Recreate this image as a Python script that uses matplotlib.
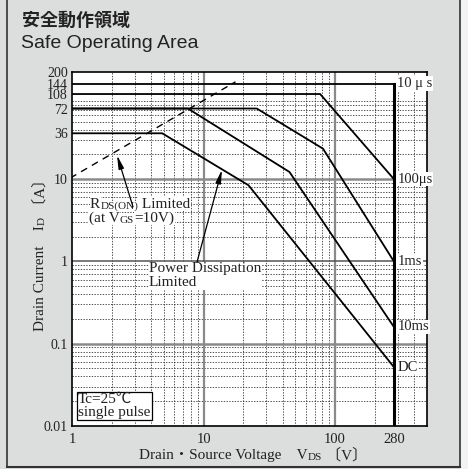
import matplotlib
matplotlib.use("Agg")
import matplotlib.pyplot as plt
from matplotlib.patches import Rectangle
from matplotlib.lines import Line2D

# --------------------------
# DATA
# --------------------------
rds_v = [0.97, 17.5]          # RDS(ON) limit line (dashed)
rds_i = [10.3, 152]

us10_v = [1, 280]
us10_i = [144, 144]
us100_v = [1, 77, 280]
us100_i = [108, 108, 10]
ms1_v = [1, 25.4, 81, 280]
ms1_i = [72, 72, 23.4, 1]
ms10_v = [1, 7.6, 45, 280]
ms10_i = [72, 72, 12.2, 0.16]
dc_v = [1, 4.85, 22, 280]
dc_i = [36, 36, 8.4, 0.052]

curve_labels = ["10 μ s", "100μs", "1ms", "10ms", "DC"]
curve_ends = [144, 10, 1, 0.16, 0.052]

vds_max = 280
yticks = [0.01, 0.1, 1, 10, 36, 72, 108, 144, 200]
xticks = [1, 10, 100, 280]

SERIF = ["Liberation Serif", "Noto Sans CJK JP"]
TXT = "#222222"

W, H = 468, 469
fig = plt.figure(figsize=(W / 100, H / 100), dpi=100)
fig.patch.set_facecolor("#dcdddd")

# frame around the panel
fig.patches.append(Rectangle((460 / W, 0), 8 / W, 1, transform=fig.transFigure,
                             facecolor="#f2f2f2", edgecolor="none"))
fig.lines.append(Line2D([7 / W, 7 / W], [1 - 467 / H, 1], transform=fig.transFigure, color="#333", lw=1.2))
fig.lines.append(Line2D([460 / W, 460 / W], [1 - 467 / H, 1], transform=fig.transFigure, color="#333", lw=1.2))
fig.lines.append(Line2D([7 / W, 460 / W], [1 - 467 / H, 1 - 467 / H], transform=fig.transFigure, color="#333", lw=1.5))

fig.text(22 / W, 1 - 20.5 / H, "安全動作領域", family="Noto Sans CJK JP", weight="bold",
         fontsize=13, va="center", color=TXT)
fig.text(21 / W, 1 - 44 / H, "Safe Operating Area", family="Liberation Sans",
         fontsize=14, va="center", color=TXT)

ax = fig.add_axes([72 / W, 1 - 426 / H, 355 / W, 354 / H])
ax.set_xscale("log")
ax.set_yscale("log")
ax.set_xlim(1, 500)
ax.set_ylim(0.01, 200)

# grid
dot = (0, (1.8, 1.8))
for d in [1, 10, 100]:
    for k in range(2, 10):
        if k * d < 500:
            ax.axvline(k * d, color="#222", lw=0.55, ls=dot, zorder=1)
for d in [0.01, 0.1, 1, 10, 100]:
    for k in range(2, 10):
        if k * d < 200:
            ax.axhline(k * d, color="#222", lw=0.55, ls=dot, zorder=1)
for v in [10, 100]:
    ax.axvline(v, color="#8a8a8a", lw=1.6, zorder=1.5)
for v in [0.1, 10]:
    ax.axhline(v, color="#8a8a8a", lw=1.8, zorder=1.5)
ax.axhline(1, color="#555555", lw=1.1, zorder=1.5)

# curves
ax.plot(rds_v, rds_i, color="k", lw=1.0, ls=(0, (5, 4)), zorder=3)
for v, i in [(us10_v, us10_i), (us100_v, us100_i), (ms1_v, ms1_i),
             (ms10_v, ms10_i), (dc_v, dc_i)]:
    ax.plot(v, i, color="k", lw=1.3, zorder=3)
ax.plot([vds_max, vds_max], [us10_i[-1], 0.01], color="k", lw=2.2, zorder=3)

for lab, yv in zip(curve_labels, curve_ends):
    ax.annotate(lab, xy=(vds_max, yv), xytext=(2.5, 0), textcoords="offset points",
                ha="left", va="center", fontsize=10.5, family=SERIF, color=TXT, zorder=5,
                bbox=dict(facecolor="white", edgecolor="none", pad=0.6))

# ticks
ax.set_xticks(xticks)
ax.set_xticklabels([str(x) for x in xticks])
ax.set_yticks(yticks)
ax.set_yticklabels(["0.01", "0.1", "1", "10", "36", "72", "108", "144", "200"])
ax.minorticks_off()
ax.tick_params(length=0, labelsize=10.5, colors=TXT)
ax.tick_params(axis="y", pad=3, labelsize=10)
ax.tick_params(axis="x", pad=5)
for lab in ax.get_xticklabels() + ax.get_yticklabels():
    lab.set_family(SERIF)
for s in ax.spines.values():
    s.set_linewidth(1.2)
    s.set_color("k")


def chain(prev, s, size, rot=False):
    if rot:
        return ax.annotate(s, xy=(1, 1), xycoords=prev, xytext=(0, 0), textcoords="offset points",
                           ha="right", va="bottom", rotation=90, fontsize=size, family=SERIF,
                           color=TXT, annotation_clip=False)
    return ax.annotate(s, xy=(1, 0), xycoords=prev, xytext=(0, 0), textcoords="offset points",
                       ha="left", va="bottom", fontsize=size, family=SERIF, color=TXT,
                       annotation_clip=False, zorder=5,
                       bbox=dict(facecolor="white", edgecolor="none", pad=0.3))


# axis labels
t = fig.text(139 / W, 1 - 462 / H, "Drain・Source Voltage\u3000V", fontsize=11, family=SERIF,
             color=TXT, ha="left", va="bottom")
t = chain(t, "DS", 8)
t.set_bbox(None)
t = chain(t, " 〔V〕", 11)
t.set_bbox(None)

t = fig.text(47 / W, 1 - 331 / H, "Drain Current\u3000I", fontsize=11, family=SERIF, color=TXT,
             ha="right", va="bottom", rotation=90)
t = chain(t, "D", 8, rot=True)
t = chain(t, " 〔A〕", 11, rot=True)

# annotations
t = ax.text(1.37, 4.1, "R", fontsize=11, family=SERIF, color=TXT, ha="left", va="bottom", zorder=5,
            bbox=dict(facecolor="white", edgecolor="none", pad=0.3))
t = chain(t, "DS(ON)", 8)
t = chain(t, " Limited", 11)
t = ax.text(1.35, 2.77, "(at V", fontsize=11, family=SERIF, color=TXT, ha="left", va="bottom", zorder=5,
            bbox=dict(facecolor="white", edgecolor="none", pad=0.3))
t = chain(t, "GS", 8)
t = chain(t, "=10V)", 11)

ax.text(3.85, 0.97, "Power Dissipation\nLimited", fontsize=11, family=SERIF, color=TXT,
        ha="left", va="top", linespacing=1.1, zorder=5,
        bbox=dict(facecolor="white", edgecolor="none", pad=0.3))

arrow = dict(arrowstyle="-|>,head_length=0.8,head_width=0.16", color="k", lw=0.9,
             shrinkA=0, shrinkB=0)
ax.annotate("", xy=(2.2, 19.5), xytext=(2.91, 4.6), arrowprops=arrow, zorder=6)
ax.annotate("", xy=(13.8, 13.0), xytext=(8.92, 0.98), arrowprops=arrow, zorder=6)

ax.text(1.115, 0.0175, "Tc=25℃\nsingle pulse", fontsize=11, family=SERIF, color=TXT,
        ha="left", va="center", linespacing=0.95, zorder=5,
        bbox=dict(facecolor="white", edgecolor="k", lw=0.9, pad=1.2))

fig.savefig("out.png", dpi=100, facecolor=fig.get_facecolor())
